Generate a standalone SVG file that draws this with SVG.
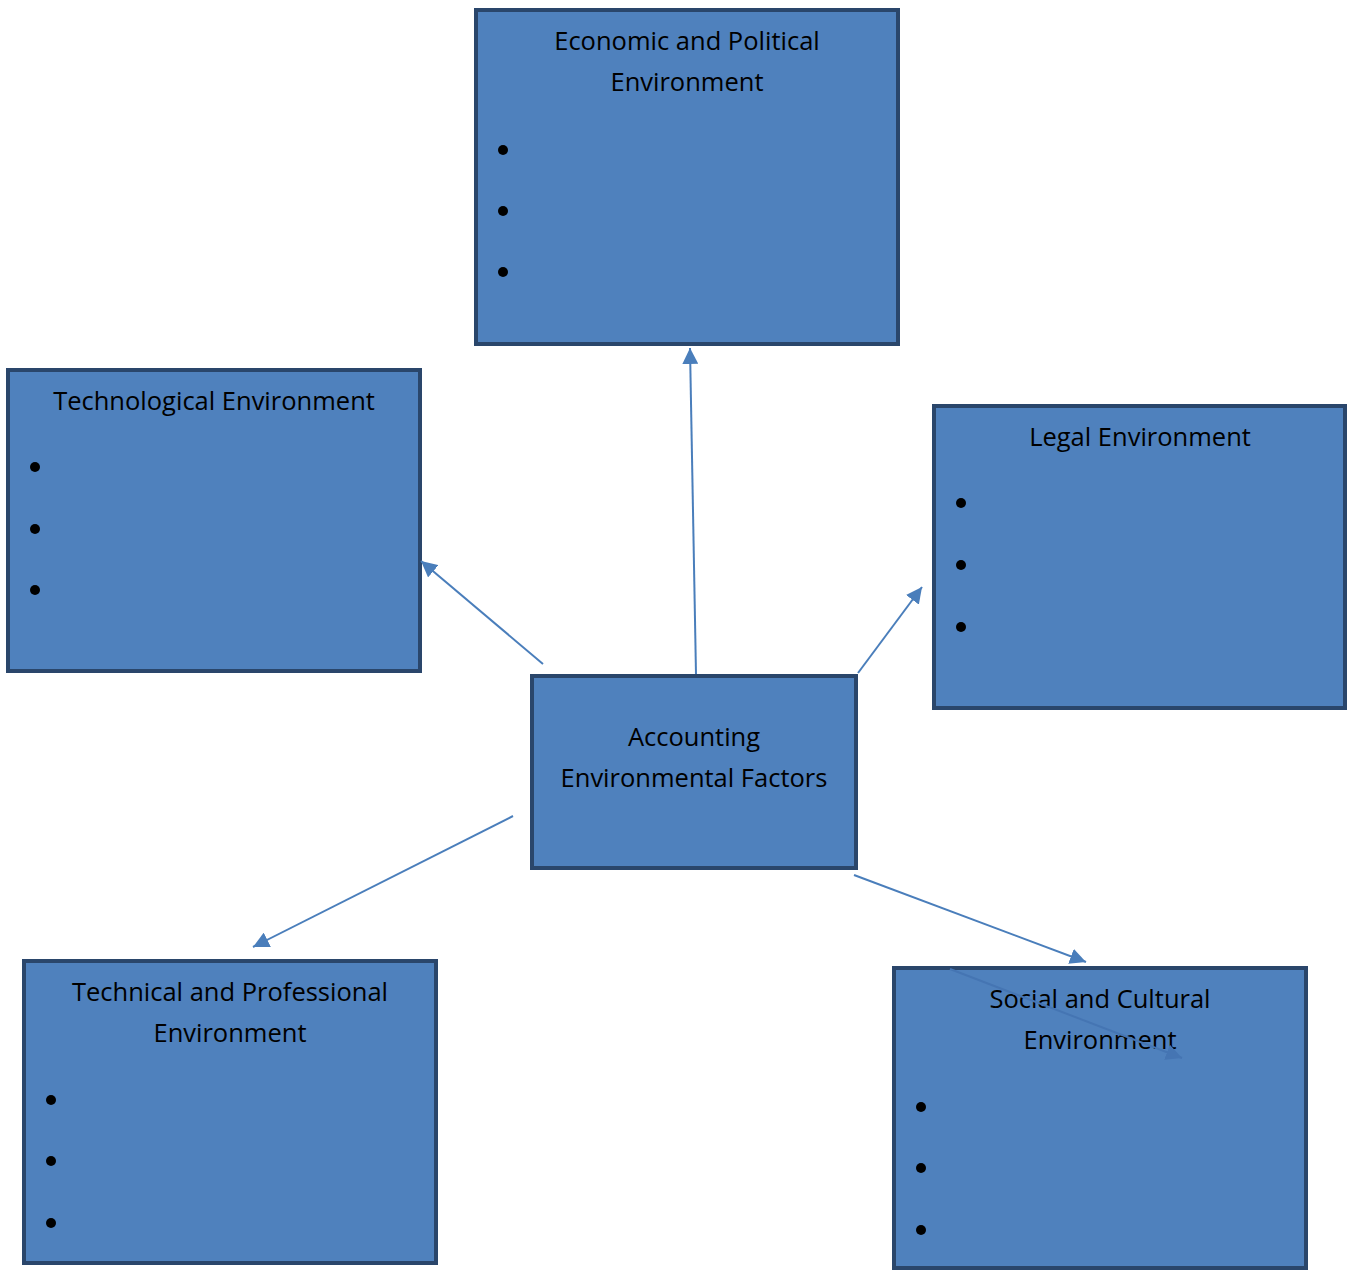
<svg xmlns="http://www.w3.org/2000/svg" width="1348" height="1270" viewBox="0 0 1348 1270">
<style>
.box{fill:#4F81BD;stroke:#2A466B;stroke-width:4}
.t{font-family:"Open Sans","Liberation Sans",sans-serif;font-size:25.5px;fill:#000;text-anchor:middle}
.b{fill:#000}
.c{stroke:#4A7EBB;stroke-width:2;fill:none;marker-end:url(#ah)}
.s{stroke:#4575B3;stroke-width:2;fill:none;marker-end:url(#ah2)}
</style>
<defs>
<marker id="ah" markerUnits="userSpaceOnUse" markerWidth="18" markerHeight="16" refX="16" refY="8" orient="auto">
<path d="M0,0 L16,8 L0,16 Z" fill="#4A7EBB"/>
</marker>
<marker id="ah2" markerUnits="userSpaceOnUse" markerWidth="18" markerHeight="16" refX="16" refY="8" orient="auto">
<path d="M0,0 L16,8 L0,16 Z" fill="#4575B3"/>
</marker>
</defs>
<rect width="1348" height="1270" fill="#fff"/>
<g id="economic">
<rect class="box" x="476" y="10" width="422" height="334"/>
<text class="t" x="687" y="50">Economic and Political</text>
<text class="t" x="687" y="91">Environment</text>
<circle class="b" cx="503" cy="150" r="5"/><circle class="b" cx="503" cy="211" r="5"/><circle class="b" cx="503" cy="272" r="5"/>
</g>
<g id="technological">
<rect class="box" x="8" y="370" width="412" height="301"/>
<text class="t" x="214" y="410">Technological Environment</text>
<circle class="b" cx="35" cy="467" r="5"/><circle class="b" cx="35" cy="529" r="5"/><circle class="b" cx="35" cy="590" r="5"/>
</g>
<g id="legal">
<rect class="box" x="934" y="406" width="411" height="302"/>
<text class="t" x="1140" y="446">Legal Environment</text>
<circle class="b" cx="961" cy="503" r="5"/><circle class="b" cx="961" cy="565" r="5"/><circle class="b" cx="961" cy="627" r="5"/>
</g>
<g id="center">
<rect class="box" x="532" y="676" width="324" height="192"/>
<text class="t" x="694" y="746">Accounting</text>
<text class="t" x="694" y="787">Environmental Factors</text>
</g>
<g id="technical">
<rect class="box" x="24" y="961" width="412" height="302"/>
<text class="t" x="230" y="1001">Technical and Professional</text>
<text class="t" x="230" y="1042">Environment</text>
<circle class="b" cx="51" cy="1100" r="5"/><circle class="b" cx="51" cy="1161" r="5"/><circle class="b" cx="51" cy="1223" r="5"/>
</g>
<g id="social">
<rect class="box" x="894" y="968" width="412" height="300"/>
<text class="t" x="1100" y="1008">Social and Cultural</text>
<text class="t" x="1100" y="1049">Environment</text>
<circle class="b" cx="921" cy="1107" r="5"/><circle class="b" cx="921" cy="1168" r="5"/><circle class="b" cx="921" cy="1230" r="5"/>
</g>
<g id="connectors">
<line class="c" x1="696" y1="674" x2="690" y2="348"/>
<line class="c" x1="543" y1="664" x2="421" y2="561"/>
<line class="c" x1="858" y1="673" x2="922" y2="587"/>
<line class="c" x1="513" y1="816" x2="253" y2="947"/>
<line class="c" x1="854" y1="875" x2="1086" y2="962"/>
<line class="s" x1="950" y1="969" x2="1182" y2="1058"/>
</g>
</svg>
